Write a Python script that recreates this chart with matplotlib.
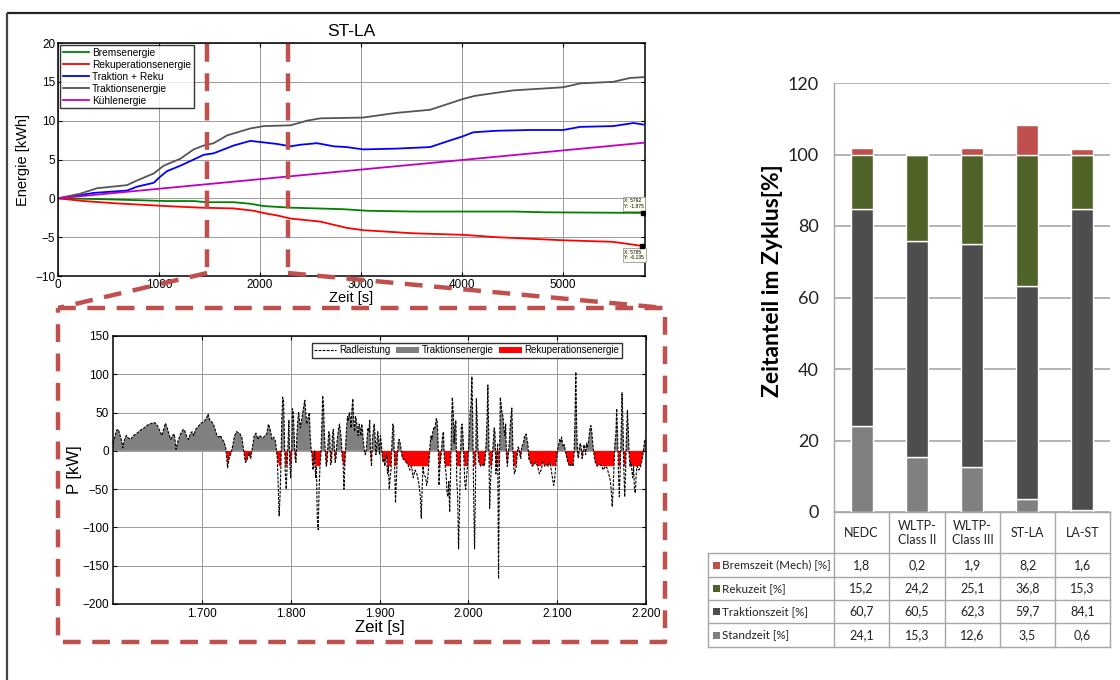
import matplotlib
matplotlib.use("Agg")
import matplotlib.pyplot as plt
import numpy as np
from matplotlib.lines import Line2D
from matplotlib.patches import Patch, Rectangle
from matplotlib.ticker import FuncFormatter

# ---------------- data: top energy chart ----------------
t_trak = [0, 220, 386, 683, 782, 947, 1046, 1211, 1343, 1442, 1541, 1673, 1904, 2036, 2300,
          2465, 2597, 3020, 3347, 3683, 4010, 4129, 4505, 5000, 5168, 5495, 5663, 5792]
e_trak = [0, 0.6, 1.3, 1.7, 2.3, 3.2, 4.2, 5.1, 6.3, 6.8, 7.1, 8.1, 9.0, 9.3, 9.4,
          10.0, 10.3, 10.4, 11.0, 11.4, 12.8, 13.2, 13.9, 14.3, 14.8, 15.0, 15.5, 15.6]

t_blue = [0, 220, 353, 683, 782, 947, 1013, 1079, 1211, 1343, 1442, 1541, 1739, 1904, 2036,
          2168, 2300, 2399, 2564, 2729, 2857, 3020, 3347, 3683, 3845, 4010, 4109, 4340, 4670,
          5000, 5168, 5495, 5697, 5792]
e_blue = [0, 0.4, 0.7, 1.0, 1.5, 2.0, 2.8, 3.5, 4.2, 5.0, 5.6, 5.8, 6.8, 7.4, 7.2,
          7.0, 6.7, 6.9, 7.1, 6.7, 6.6, 6.3, 6.4, 6.6, 7.3, 8.0, 8.5, 8.7, 8.8,
          8.8, 9.2, 9.3, 9.7, 9.5]

t_kuehl = [0, 5792]
e_kuehl = [0, 7.15]

t_brems = [0, 419, 1079, 1343, 1475, 1739, 1904, 2036, 2300, 2564, 2828, 3059, 3515, 4505,
           4835, 5792]
e_brems = [0, -0.1, -0.35, -0.35, -0.5, -0.5, -0.7, -1.0, -1.2, -1.3, -1.4, -1.6, -1.7, -1.7,
           -1.8, -1.875]

t_reku = [0, 254, 584, 1079, 1409, 1739, 1937, 2036, 2168, 2300, 2597, 2857, 3020, 3515,
          4010, 4340, 5000, 5495, 5785]
e_reku = [0, -0.35, -0.65, -1.0, -1.2, -1.3, -1.6, -1.9, -2.2, -2.6, -3.0, -3.8, -4.1, -4.5,
          -4.7, -5.0, -5.4, -5.6, -6.135]

# ---------------- data: wheel power (zoom) ----------------
t_p = [1600, 1602, 1604, 1606, 1608, 1610, 1611, 1613, 1615, 1617, 1620, 1623, 1626, 1629, 1632,
       1635, 1638, 1641, 1644, 1647, 1650, 1653, 1655, 1657, 1659, 1661, 1663, 1665, 1667, 1669,
       1671, 1673, 1676, 1679, 1681, 1683, 1685, 1687, 1689, 1691, 1693, 1696, 1699, 1702, 1705,
       1707, 1709, 1711, 1713, 1715, 1717, 1719, 1721, 1723, 1725, 1727, 1729, 1731, 1733, 1735,
       1737, 1739, 1741, 1743, 1745, 1747, 1749, 1751, 1753, 1755, 1757, 1759, 1761, 1763, 1765,
       1767, 1769, 1771, 1773, 1775, 1777, 1779, 1781, 1783, 1785, 1787, 1788, 1789, 1790, 1791,
       1792, 1793, 1794, 1795, 1796, 1797, 1798, 1799, 1800, 1801, 1802, 1803, 1804, 1805, 1806,
       1807, 1808, 1809, 1810, 1811, 1813, 1815, 1816, 1817, 1818, 1819, 1821, 1822, 1823, 1824,
       1825, 1826, 1827, 1828, 1829, 1830, 1831, 1832, 1833, 1834, 1835, 1836, 1837, 1838, 1839,
       1840, 1841, 1842, 1843, 1844, 1845, 1846, 1847, 1848, 1849, 1850, 1851, 1852, 1854, 1855,
       1856, 1857, 1858, 1859, 1860, 1861, 1862, 1863, 1864, 1865, 1866, 1867, 1868, 1869, 1870,
       1871, 1872, 1873, 1874, 1875, 1876, 1877, 1878, 1879, 1880, 1881, 1882, 1883, 1884, 1885,
       1886, 1887, 1888, 1889, 1890, 1891, 1892, 1893, 1894, 1895, 1896, 1897, 1898, 1899, 1900,
       1901, 1902, 1903, 1904, 1905, 1906, 1907, 1908, 1909, 1910, 1911, 1912, 1913, 1914, 1915,
       1916, 1917, 1918, 1919, 1920, 1921, 1922, 1923, 1924, 1925, 1926, 1928, 1930, 1932, 1934,
       1936, 1938, 1940, 1942, 1944, 1946, 1947, 1948, 1949, 1950, 1952, 1953, 1954, 1955, 1956,
       1957, 1958, 1959, 1960, 1961, 1962, 1963, 1964, 1965, 1966, 1967, 1968, 1969, 1970, 1971,
       1972, 1973, 1974, 1975, 1976, 1977, 1978, 1979, 1980, 1981, 1982, 1983, 1984, 1985, 1986,
       1987, 1988, 1989, 1990, 1991, 1992, 1993, 1994, 1995, 1996, 1997, 1998, 1999, 2000, 2001,
       2002, 2003, 2004, 2005, 2006, 2007, 2008, 2009, 2010, 2011, 2012, 2014, 2016, 2018, 2019,
       2020, 2021, 2022, 2023, 2024, 2025, 2026, 2027, 2028, 2029, 2030, 2031, 2032, 2033, 2034,
       2035, 2036, 2037, 2038, 2039, 2040, 2041, 2042, 2043, 2044, 2045, 2046, 2047, 2048, 2049,
       2050, 2051, 2052, 2053, 2054, 2055, 2056, 2057, 2058, 2059, 2060, 2062, 2063, 2064, 2065,
       2066, 2067, 2068, 2070, 2072, 2074, 2076, 2078, 2080, 2082, 2084, 2086, 2088, 2090, 2092,
       2094, 2096, 2097, 2098, 2099, 2100, 2101, 2102, 2103, 2104, 2105, 2106, 2107, 2108, 2109,
       2110, 2111, 2112, 2114, 2116, 2118, 2119, 2120, 2121, 2122, 2123, 2124, 2125, 2126, 2127,
       2128, 2129, 2130, 2131, 2132, 2133, 2134, 2135, 2136, 2137, 2138, 2139, 2140, 2141, 2142,
       2143, 2145, 2148, 2150, 2152, 2154, 2156, 2158, 2160, 2161, 2162, 2163, 2164, 2165, 2166,
       2167, 2168, 2169, 2170, 2171, 2172, 2173, 2174, 2175, 2176, 2177, 2178, 2179, 2180, 2181,
       2182, 2183, 2184, 2185, 2186, 2187, 2188, 2189, 2190, 2192, 2194, 2196, 2197, 2198, 2199,
       2200]
p_kw = [10, 18, 27, 28, 20, 12, 4, 15, 20, 17, 15, 20, 22, 25, 28,
        30, 33, 35, 36, 37, 33, 25, 20, 28, 36, 30, 22, 15, 20, 22,
        2, 12, 22, 28, 26, 18, 15, 22, 25, 20, 28, 32, 36, 38, 42,
        48, 40, 38, 35, 28, 20, 18, 20, 15, 12, 3, -22, -8, -3, 8,
        20, 25, 24, 22, 18, 2, -15, -12, -3, -10, 5, 20, 23, 15, 20,
        18, 17, 20, 22, 35, 28, 15, 18, 12, -10, -85, -60, -20, 40, 70,
        65, 20, -30, -50, -20, 10, 40, -15, -35, -10, 55, 50, 20, -10, -15,
        20, 40, 50, 40, 30, 45, 60, 66, 50, 35, 40, 50, 20, 3, -5,
        -25, -20, 0, -35, -20, -90, -103, -50, -20, -5, 30, 72, 60, 20, 0,
        -20, -15, 10, 25, 20, -18, -15, 20, 28, 10, -15, -10, 10, 30, 35,
        25, 15, -10, -15, -50, -20, 10, 30, 45, 40, 50, 45, 30, 55, 68,
        40, 25, 45, 40, 30, 20, 35, 30, 20, 35, 25, 10, 0, -5, 0,
        15, 30, 25, 40, -5, -20, 15, 25, 35, 20, -5, 10, 25, 15, -5,
        20, 10, -5, -15, -10, -20, -10, -5, -30, -20, -50, -35, -25, 10, 35,
        30, -20, -68, -40, -10, 10, 15, 12, 5, -5, -10, -12, -15, -18, -25,
        -20, -35, -25, -30, -40, -60, -88, -50, -20, -30, -35, -45, -40, -25, -10,
        10, 20, 15, 25, 30, 28, 35, 42, 38, 10, -45, -20, -10, 5, 20,
        25, -10, -20, -30, -55, -60, -40, -80, -30, 30, 70, 50, 10, 35, 40,
        -40, -60, -128, -80, -20, 30, 35, 20, -10, -40, -50, -35, -20, 0, 20,
        50, 60, 97, 40, -60, -128, -50, 68, 40, -5, -15, -20, -18, -20, -10,
        10, 40, 86, 20, -75, -40, -20, -10, 10, 30, 25, -30, -20, 10, -167,
        -20, 70, 60, 50, 45, 30, 20, 35, -10, -20, -5, 10, 30, 45, 56,
        10, -20, -30, -25, -20, -5, 5, 3, -5, -10, 5, 10, 18, 20, 22,
        15, 10, -10, -15, -20, -18, -15, -20, -30, -25, -15, -20, -18, -20, -15,
        -30, -45, -40, -25, -15, -5, 5, 10, 15, 12, 18, 10, 5, 8, 2,
        -5, -10, -15, -20, -18, -20, -5, 40, 103, 30, -5, -10, 5, 10, 5,
        -10, -5, 8, 5, -5, 10, 5, 10, 20, 30, 33, 25, 10, 0, -10,
        -15, -20, -18, -20, -25, -20, -22, -30, -40, -55, -73, -50, -20, 10, 20,
        55, 20, -30, -60, -20, 20, 76, 40, -20, -60, -30, 20, 53, 30, -5,
        -20, -15, -25, -35, -20, -50, -55, -30, -20, -25, -20, -10, 0, 10, 15,
        12]
reku_limit = -20

# ---------------- data: bar chart / table ----------------
categories = ["NEDC", "WLTP-\nClass II", "WLTP-\nClass III", "ST-LA", "LA-ST"]
series_names = ["Bremszeit (Mech) [%]", "Rekuzeit [%]", "Traktionszeit [%]", "Standzeit [%]"]
bremszeit = [1.8, 0.2, 1.9, 8.2, 1.6]
rekuzeit = [15.2, 24.2, 25.1, 36.8, 15.3]
traktionszeit = [60.7, 60.5, 62.3, 59.7, 84.1]
standzeit = [24.1, 15.3, 12.6, 3.5, 0.6]
series_colors = ["#C0504D", "#4F6228", "#4D4D4D", "#808080"]

# ---------------- figure ----------------
W, H = 1120, 680
fig = plt.figure(figsize=(11.2, 6.8), dpi=100)
fig.patch.set_facecolor("white")


def axpx(l, t, r, b):
    return fig.add_axes([l / W, 1 - b / H, (r - l) / W, (b - t) / H])


SANS = ["Liberation Sans", "DejaVu Sans"]

# ---- top chart ----
ax1 = axpx(58, 43, 645, 276)
ax1.plot(t_brems, e_brems, color="#008000", lw=1.3, label="Bremsenergie")
ax1.plot(t_reku, e_reku, color="#FF0000", lw=1.3, label="Rekuperationsenergie")
ax1.plot(t_blue, e_blue, color="#0000FF", lw=1.3, label="Traktion + Reku")
ax1.plot(t_trak, e_trak, color="#555555", lw=1.3, label="Traktionsenergie")
ax1.plot(t_kuehl, e_kuehl, color="#C000C0", lw=1.3, label="Kühlenergie")
ax1.set_xlim(0, 5810)
ax1.set_ylim(-10, 20)
ax1.set_xticks([0, 1000, 2000, 3000, 4000, 5000])
ax1.set_yticks([-10, -5, 0, 5, 10, 15, 20])
ax1.grid(True, color="#9a9a9a", lw=0.7)
ax1.tick_params(direction="in", top=True, right=True, labelsize=8.5, length=3, pad=2)
for lab in ax1.get_xticklabels() + ax1.get_yticklabels():
    lab.set_family(SANS)
for s in ax1.spines.values():
    s.set_linewidth(1.1)
ax1.set_title("ST-LA", fontsize=12.5, family=SANS, pad=5)
ax1.set_ylabel("Energie [kWh]", fontsize=10.5, family=SANS, labelpad=4)
ax1.set_xlabel("Zeit [s]", fontsize=10.5, family=SANS, labelpad=0)
leg1 = ax1.legend(loc="upper left", prop={"family": SANS, "size": 7.3}, frameon=True,
                  fancybox=False, edgecolor="black", handlelength=2.6, borderpad=0.25,
                  labelspacing=0.2, handletextpad=0.3, borderaxespad=0.2)
leg1.get_frame().set_linewidth(1.0)
# data tips
ax1.plot([t_brems[-1]], [e_brems[-1]], "s", color="k", ms=3, zorder=5)
ax1.plot([t_reku[-1]], [e_reku[-1]], "s", color="k", ms=3, zorder=5)
tipbox = dict(boxstyle="square,pad=0.3", fc="#fffff0", ec="#999999", lw=0.6)
ax1.annotate(f"X: {t_brems[-1]}\nY: {e_brems[-1]}", xy=(t_brems[-1], e_brems[-1]),
             xytext=(-19, 9), textcoords="offset pixels", fontsize=3.6, family=SANS,
             ha="left", va="center", bbox=tipbox)
ax1.annotate(f"X: {t_reku[-1]}\nY: {e_reku[-1]}", xy=(t_reku[-1], e_reku[-1]),
             xytext=(-18, -9), textcoords="offset pixels", fontsize=3.6, family=SANS,
             ha="left", va="center", bbox=tipbox)

# ---- lower chart ----
ax2 = axpx(113, 336, 646, 604)
tp = np.array(t_p, dtype=float)
pp = np.array(p_kw, dtype=float)
ax2.fill_between(tp, 0, pp, where=pp >= 0, interpolate=True, color="#808080", lw=0, zorder=2)
ax2.fill_between(tp, np.maximum(pp, reku_limit), 0, where=pp <= 0, interpolate=True,
                 color="#FF0000", lw=0, zorder=2)
ax2.plot(tp, pp, color="black", lw=0.8, dashes=(2.5, 1.2), zorder=3)
ax2.set_xlim(1600, 2200)
ax2.set_ylim(-200, 150)
ax2.set_xticks([1700, 1800, 1900, 2000, 2100, 2200])
ax2.set_yticks([-200, -150, -100, -50, 0, 50, 100, 150])
ax2.xaxis.set_major_formatter(FuncFormatter(lambda v, p: f"{int(round(v)):,}".replace(",", ".")))
ax2.grid(True, color="#9a9a9a", lw=0.7, zorder=0)
ax2.set_axisbelow(True)
ax2.tick_params(direction="in", top=True, right=True, labelsize=8.5, length=3, pad=3)
for lab in ax2.get_xticklabels() + ax2.get_yticklabels():
    lab.set_family(SANS)
for s in ax2.spines.values():
    s.set_linewidth(1.1)
ax2.set_ylabel("P [kW]", fontsize=12, family=SANS, labelpad=0)
ax2.set_xlabel("Zeit [s]", fontsize=12, family=SANS, labelpad=0)
h2 = [Line2D([], [], color="black", lw=0.8, dashes=(2.5, 1.2)),
      Patch(facecolor="#808080"), Patch(facecolor="#FF0000")]
leg2 = ax2.legend(h2, ["Radleistung", "Traktionsenergie", "Rekuperationsenergie"], ncol=3,
                  loc="upper right", bbox_to_anchor=(0.955, 0.974),
                  prop={"family": SANS, "size": 7}, frameon=True,
                  fancybox=False, edgecolor="black", handlelength=2.3, borderpad=0.25,
                  columnspacing=0.6, handletextpad=0.3, borderaxespad=0.0)
leg2.get_frame().set_linewidth(1.0)

# ---- bar chart ----
CAL = ["Lato", "DejaVu Sans"]
ax3 = axpx(834, 83, 1110, 512)
x = np.arange(len(categories))
stack_order = [(standzeit, series_colors[3]), (traktionszeit, series_colors[2]),
               (rekuzeit, series_colors[1]), (bremszeit, series_colors[0])]
bottom = np.zeros(len(categories))
for vals, col in stack_order:
    ax3.bar(x, vals, bottom=bottom, width=0.4, color=col, edgecolor="white", lw=1.0, zorder=3)
    bottom += np.array(vals)
ax3.set_xlim(-0.5, len(categories) - 0.5)
ax3.set_ylim(0, 120)
ax3.set_yticks(range(0, 121, 20))
ax3.set_xticks([])
ax3.grid(axis="y", color="#A6A6A6", lw=1.2, zorder=0)
ax3.set_axisbelow(True)
for s in ["top", "right"]:
    ax3.spines[s].set_visible(False)
for s in ["left", "bottom"]:
    ax3.spines[s].set_color("#A6A6A6")
    ax3.spines[s].set_linewidth(1.0)
ax3.tick_params(axis="y", length=0, pad=11, labelsize=13, labelcolor="#222222")
for lab in ax3.get_yticklabels():
    lab.set_family(CAL)
ax3.set_ylabel("Zeitanteil im Zyklus[%]", fontsize=16.5, fontweight="bold", family=CAL,
               labelpad=3)
ax3.yaxis.label.set_y(0.54)

# ---- overlay: frame, zoom markers, table ----
ov = fig.add_axes([0, 0, 1, 1])
ov.set_xlim(0, W)
ov.set_ylim(H, 0)
ov.axis("off")
ov.patch.set_alpha(0)

ov.plot([7, W], [13, 13], color="#222222", lw=1.6, solid_capstyle="butt")
ov.plot([7, 7], [13, H], color="#444444", lw=1.6, solid_capstyle="butt")

dred = "#C0504D"
dk = dict(color=dred, lw=3.2, dashes=(4.0, 2.6), solid_capstyle="butt")
ov.plot([207, 207], [44, 273], **dk)
ov.plot([288, 288], [44, 273], **dk)
ov.plot([207, 58], [273, 308], **dk)
ov.plot([288, 665], [273, 308], **dk)
ov.plot([58, 665, 665, 58, 58], [308, 308, 642, 642, 308], **dk)

# table
gcol = "#A6A6A6"
col_edges = [834, 889, 945, 1000, 1055, 1110]
row_edges = [553, 577, 600, 623, 647]
for cx in col_edges:
    ov.plot([cx, cx], [512, 647], color=gcol, lw=1.0)
ov.plot([708, 708], [553, 647], color=gcol, lw=1.0)
for ry in row_edges:
    ov.plot([708, 1110], [ry, ry], color=gcol, lw=1.0)
for i, cat in enumerate(categories):
    cxm = (col_edges[i] + col_edges[i + 1]) / 2
    ov.text(cxm, 533, cat, ha="center", va="center", fontsize=9, family=CAL,
            color="#222222", linespacing=1.25)
row_vals = [bremszeit, rekuzeit, traktionszeit, standzeit]
for r, (name, vals, col) in enumerate(zip(series_names, row_vals, series_colors)):
    ym = (row_edges[r] + row_edges[r + 1]) / 2
    ov.add_patch(Rectangle((712.5, ym - 3.5), 7, 7, color=col, lw=0))
    ov.text(722, ym, name, ha="left", va="center", fontsize=8.4, family=CAL, color="#222222")
    for i, v in enumerate(vals):
        cxm = (col_edges[i] + col_edges[i + 1]) / 2
        ov.text(cxm, ym, f"{v:.1f}".replace(".", ","), ha="center", va="center",
                fontsize=9, family=CAL, color="#222222")

fig.savefig("out.png", dpi=100)
